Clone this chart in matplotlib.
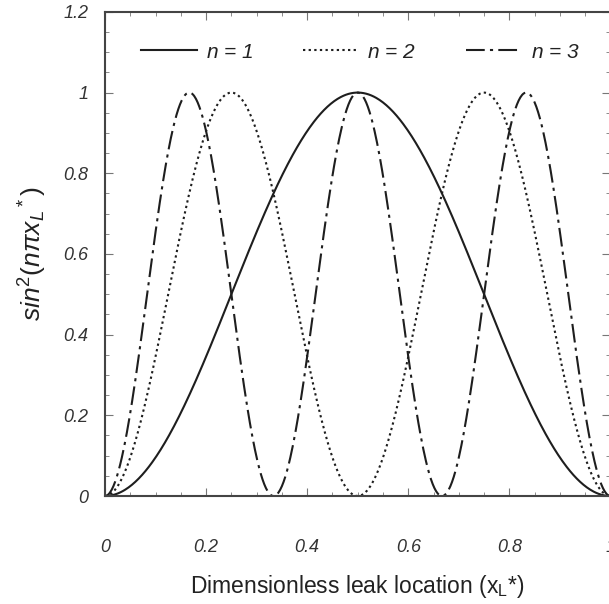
import numpy as np
import matplotlib
matplotlib.use("Agg")
import matplotlib.pyplot as plt
from matplotlib.ticker import MultipleLocator

plt.rcParams['font.family'] = ['Liberation Sans', 'DejaVu Sans']
plt.rcParams['mathtext.fontset'] = 'custom'
plt.rcParams['mathtext.rm'] = 'Liberation Sans'
plt.rcParams['mathtext.it'] = 'Liberation Sans:italic'

# mode numbers plotted: y = sin^2(n*pi*x)
modes = [1, 2, 3]
labels = ["n = 1", "n = 2", "n = 3"]
x_ticks = [0, 0.2, 0.4, 0.6, 0.8, 1]
y_ticks = [0, 0.2, 0.4, 0.6, 0.8, 1, 1.2]
x_tick_labels = ["0", "0.2", "0.4", "0.6", "0.8", "1"]
y_tick_labels = ["0", "0.2", "0.4", "0.6", "0.8", "1", "1.2"]

ink = "#1e1e1e"
styles = [dict(linestyle="-"),
          dict(linestyle=(0, (1.1, 1.6))),
          dict(linestyle=(0, (9, 2.5, 1.5, 2.5)))]

fig = plt.figure(figsize=(6.09, 6.04), dpi=100)
ax = fig.add_axes([0.1724, 0.1788, 0.8300, 0.8015])

x = np.linspace(0, 1, 601)
for n, lab, st in zip(modes, labels, styles):
    ax.plot(x, np.sin(n * np.pi * x) ** 2, color=ink, linewidth=1.5,
            label=f"$\\it{{n}}$ = {n}", **st)

ax.set_xlim(0, 1)
ax.set_ylim(0, 1.2)
ax.set_xticks(x_ticks)
ax.set_xticklabels(x_tick_labels, fontsize=13, style="italic", color="#333333")
ax.set_yticks(y_ticks)
ax.set_yticklabels(y_tick_labels, fontsize=13, style="italic", color="#333333")
ax.xaxis.set_minor_locator(MultipleLocator(0.05))
ax.yaxis.set_minor_locator(MultipleLocator(0.05))
ax.tick_params(which="both", direction="in", top=True, right=True, color="#777777")
ax.tick_params(which="major", length=6, width=0.8)
ax.tick_params(which="minor", length=3, width=0.6)
ax.tick_params(axis="x", which="major", pad=31)
ax.tick_params(axis="y", which="major", pad=12)
for s in ax.spines.values():
    s.set_color("#444444")
    s.set_linewidth(1.5)

ax.set_xlabel("Dimensionless leak location (x$_\\mathregular{L}$*)", fontsize=16.5,
              labelpad=12, color="#222222")
ax.set_ylabel("$sin^2(n\\pi x_L{}^*)$", fontsize=19, labelpad=10, color="#222222")

leg = ax.legend(loc="upper center", ncol=3, frameon=False, fontsize=15,
                handlelength=2.7, handletextpad=0.4, columnspacing=2.4,
                bbox_to_anchor=(0.505, 0.975))
for t in leg.get_texts():
    t.set_style("italic")
    t.set_color("#222222")

fig.savefig("out.png", dpi=100)
